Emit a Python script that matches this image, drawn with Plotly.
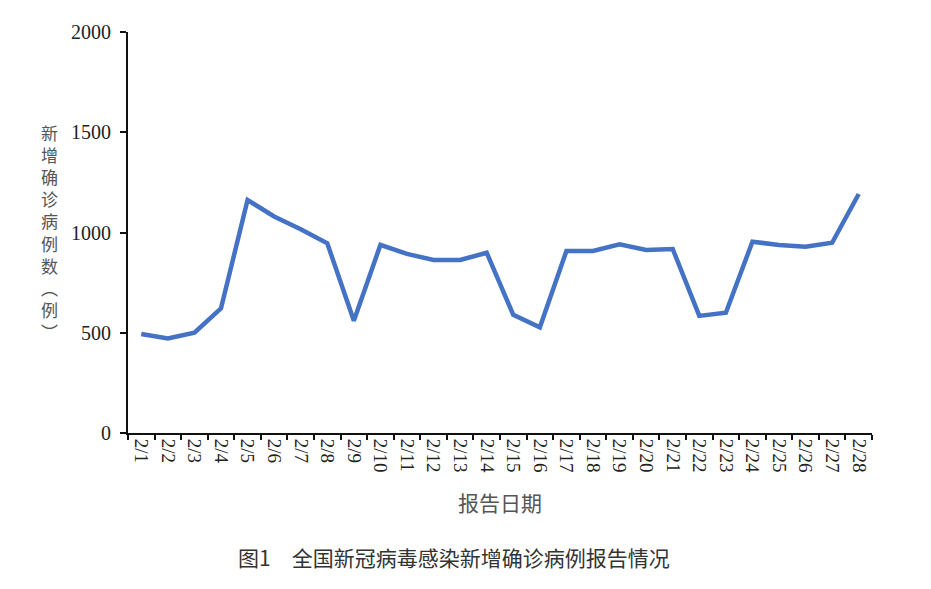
import plotly.graph_objects as go

dates = ["2/1", "2/2", "2/3", "2/4", "2/5", "2/6", "2/7", "2/8", "2/9", "2/10",
         "2/11", "2/12", "2/13", "2/14", "2/15", "2/16", "2/17", "2/18", "2/19", "2/20",
         "2/21", "2/22", "2/23", "2/24", "2/25", "2/26", "2/27", "2/28"]
cases = [494, 471, 500, 622, 1162, 1080, 1016, 946, 560, 938,
         893, 863, 863, 899, 589, 527, 908, 908, 941, 913,
         918, 584, 600, 954, 938, 929, 949, 1192]
y_ticks = [0, 500, 1000, 1500, 2000]

x_title = "报告日期"
y_title_chars = ["新", "增", "确", "诊", "病", "例", "数", "︵", "例", "︶"]
caption = "图1\u3000全国新冠病毒感染新增确诊病例报告情况"

fig = go.Figure()
fig.add_trace(go.Scatter(
    x=dates, y=cases, mode="lines",
    line=dict(color="#4472C4", width=4.5),
    hoverinfo="x+y", showlegend=False,
))

serif = "Liberation Serif, Times New Roman, serif"
cjk = "Noto Sans CJK SC, sans-serif"

# page body has an 8px margin, so the figure is sized to fit the 931x589 window
fig.update_layout(
    width=923, height=581,
    margin=dict(l=120, r=59, t=24, b=156, autoexpand=False),
    paper_bgcolor="white", plot_bgcolor="white",
    xaxis=dict(
        type="category", categoryorder="array", categoryarray=dates,
        range=[-0.5, len(dates) - 0.5], automargin=False,
        tickson="boundaries", ticks="outside", ticklen=5, tickwidth=1.5, tickcolor="#111",
        showline=True, linecolor="#111", linewidth=1.8,
        showgrid=False, zeroline=False,
        tickangle=90, tickfont=dict(family=serif, size=19, color="#222"),
        title=dict(text=x_title, font=dict(family=cjk, size=21, color="#555"), standoff=24),
    ),
    yaxis=dict(
        range=[0, 2000], tickvals=y_ticks, ticktext=[str(v) for v in y_ticks],
        automargin=False,
        ticks="outside", ticklen=6, tickwidth=1.5, tickcolor="#111",
        ticklabelstandoff=5,
        showline=True, linecolor="#111", linewidth=1.8,
        showgrid=False, zeroline=False,
        tickfont=dict(family=serif, size=20, color="#222"),
    ),
    annotations=[
        dict(text="<br>".join(y_title_chars), xref="paper", yref="paper",
             x=-0.105, y=0.502, xanchor="center", yanchor="middle", showarrow=False,
             font=dict(family=cjk, size=17, color="#555")),
        dict(text=caption, xref="paper", yref="paper",
             x=0.438, y=-0.309, xanchor="center", yanchor="middle", showarrow=False,
             font=dict(family=cjk, size=21, color="#333")),
    ],
)

fig.write_html("out.html")
